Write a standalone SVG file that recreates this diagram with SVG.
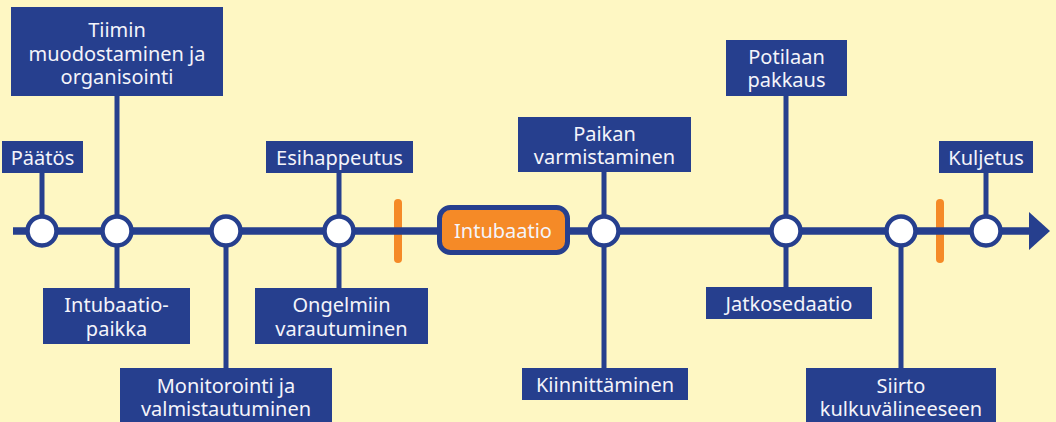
<svg xmlns="http://www.w3.org/2000/svg" width="1056" height="422" viewBox="0 0 1056 422">
<defs>
<style>
.bg{fill:#FEF7C3}
.box{fill:#263F8E}
.t{font-family:"Noto Sans","Open Sans",sans-serif;font-size:20px;fill:#F4F4FA;text-anchor:middle}
.conn{stroke:#263F8E;stroke-width:5;fill:none}
.main{stroke:#263F8E;stroke-width:7.5;fill:none}
.dot{fill:#FFFFFF;stroke:#263F8E;stroke-width:4.5}
.dash{stroke:#F58A27;stroke-width:8;stroke-linecap:round;fill:none}
</style>
</defs>
<rect class="bg" x="0" y="0" width="1056" height="422"/>
<g id="markers">
<line class="dash" x1="398" y1="203" x2="398" y2="259"/>
<line class="dash" x1="940" y1="203" x2="940" y2="259"/>
</g>
<g id="connectors">
<line class="main" x1="13" y1="231" x2="1032" y2="231"/>
<polygon points="1029,212 1050,231 1029,250" fill="#263F8E"/>
<line class="conn" x1="42" y1="172" x2="42" y2="231"/>
<line class="conn" x1="117" y1="95" x2="117" y2="289"/>
<line class="conn" x1="226" y1="231" x2="226" y2="369"/>
<line class="conn" x1="339" y1="172" x2="339" y2="289"/>
<line class="conn" x1="604" y1="171" x2="604" y2="369"/>
<line class="conn" x1="786" y1="95" x2="786" y2="288"/>
<line class="conn" x1="901" y1="231" x2="901" y2="369"/>
<line class="conn" x1="986" y1="172" x2="986" y2="231"/>
</g>
<g id="dots">
<circle class="dot" cx="42" cy="231" r="14.5"/>
<circle class="dot" cx="117" cy="231" r="14.5"/>
<circle class="dot" cx="226" cy="231" r="14.5"/>
<circle class="dot" cx="339" cy="231" r="14.5"/>
<circle class="dot" cx="604" cy="231" r="14.5"/>
<circle class="dot" cx="786" cy="231" r="14.5"/>
<circle class="dot" cx="901" cy="231" r="14.5"/>
<circle class="dot" cx="986" cy="231" r="14.5"/>
</g>
<g id="intubaatio">
<rect x="439.5" y="207.5" width="128" height="45" rx="11" fill="#F58A27" stroke="#263F8E" stroke-width="5"/>
<text class="t" x="503" y="238">Intubaatio</text>
</g>
<g id="paatos">
<rect class="box" x="2" y="141" width="81" height="32"/>
<text class="t" x="42.5" y="165">Päätös</text>
</g>
<g id="tiimin">
<rect class="box" x="11" y="7" width="212" height="89"/>
<text class="t" x="117" y="37">Tiimin</text>
<text class="t" x="117" y="61">muodostaminen ja</text>
<text class="t" x="117" y="84">organisointi</text>
</g>
<g id="intubaatiopaikka">
<rect class="box" x="43" y="288" width="147" height="56"/>
<text class="t" x="116.5" y="312">Intubaatio-</text>
<text class="t" x="116.5" y="336">paikka</text>
</g>
<g id="monitorointi">
<rect class="box" x="120" y="368" width="212" height="60"/>
<text class="t" x="226" y="393">Monitorointi ja</text>
<text class="t" x="226" y="416">valmistautuminen</text>
</g>
<g id="esihappeutus">
<rect class="box" x="266" y="141" width="147" height="32"/>
<text class="t" x="339.5" y="165">Esihappeutus</text>
</g>
<g id="ongelmiin">
<rect class="box" x="255" y="288" width="173" height="56"/>
<text class="t" x="341.5" y="312">Ongelmiin</text>
<text class="t" x="341.5" y="336">varautuminen</text>
</g>
<g id="paikan">
<rect class="box" x="518" y="117" width="173" height="55"/>
<text class="t" x="604.5" y="141">Paikan</text>
<text class="t" x="604.5" y="164">varmistaminen</text>
</g>
<g id="kiinnittaminen">
<rect class="box" x="522" y="368" width="166" height="32"/>
<text class="t" x="605" y="392">Kiinnittäminen</text>
</g>
<g id="potilaan">
<rect class="box" x="726" y="40" width="121" height="56"/>
<text class="t" x="786.5" y="64">Potilaan</text>
<text class="t" x="786.5" y="87">pakkaus</text>
</g>
<g id="jatkosedaatio">
<rect class="box" x="706" y="287" width="166" height="32"/>
<text class="t" x="789" y="311">Jatkosedaatio</text>
</g>
<g id="siirto">
<rect class="box" x="806" y="368" width="190" height="60"/>
<text class="t" x="901" y="393">Siirto</text>
<text class="t" x="901" y="416">kulkuvälineeseen</text>
</g>
<g id="kuljetus">
<rect class="box" x="939" y="141" width="94" height="32"/>
<text class="t" x="986" y="165">Kuljetus</text>
</g>
</svg>
